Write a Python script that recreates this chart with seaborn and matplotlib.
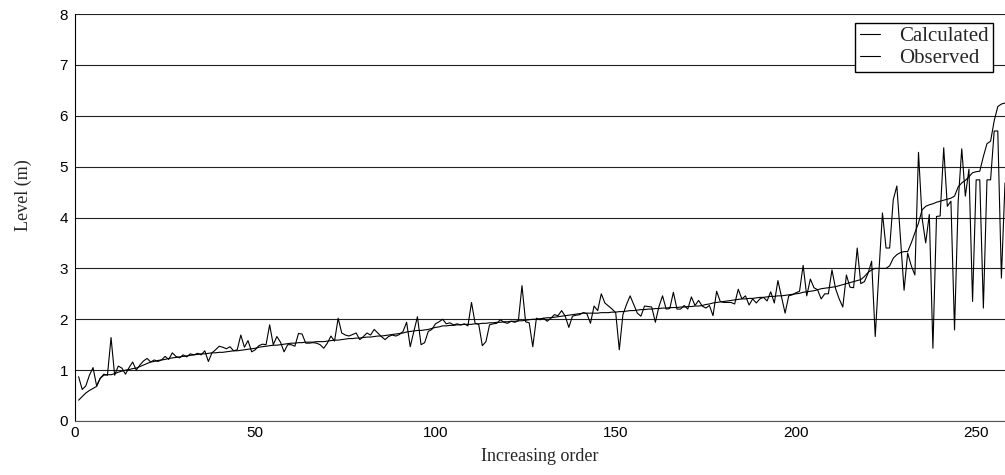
#!/usr/bin/env python3
"""Calculated vs observed level, sorted in increasing order."""

import matplotlib.pyplot as plt
import numpy as np
import pandas as pd
import seaborn as sns

# Calculated level (m), points 1..258
CALCULATED = [
    0.41, 0.48, 0.55, 0.60, 0.64, 0.68, 0.84, 0.90, 0.91, 0.91,
    0.93, 0.96, 0.98, 1.00, 1.01, 1.03, 1.04, 1.07, 1.10, 1.13,
    1.16, 1.17, 1.19, 1.20, 1.21, 1.23, 1.24, 1.25, 1.26, 1.27,
    1.28, 1.29, 1.30, 1.31, 1.32, 1.32, 1.33, 1.34, 1.34, 1.35,
    1.35, 1.36, 1.37, 1.38, 1.38, 1.39, 1.40, 1.41, 1.42, 1.43,
    1.45, 1.46, 1.47, 1.48, 1.49, 1.49, 1.50, 1.51, 1.52, 1.53,
    1.53, 1.54, 1.54, 1.55, 1.55, 1.55, 1.56, 1.56, 1.56, 1.57,
    1.58, 1.59, 1.59, 1.60, 1.61, 1.62, 1.62, 1.63, 1.63, 1.64,
    1.65, 1.65, 1.66, 1.67, 1.67, 1.68, 1.69, 1.70, 1.71, 1.72,
    1.73, 1.75, 1.76, 1.77, 1.78, 1.78, 1.79, 1.80, 1.82, 1.84,
    1.85, 1.87, 1.87, 1.88, 1.88, 1.89, 1.89, 1.90, 1.90, 1.90,
    1.91, 1.91, 1.92, 1.92, 1.93, 1.93, 1.94, 1.94, 1.95, 1.95,
    1.96, 1.96, 1.97, 1.97, 1.98, 1.99, 2.00, 2.00, 2.01, 2.02,
    2.03, 2.03, 2.04, 2.05, 2.06, 2.07, 2.08, 2.09, 2.10, 2.11,
    2.12, 2.12, 2.12, 2.12, 2.12, 2.13, 2.13, 2.13, 2.14, 2.14,
    2.15, 2.15, 2.16, 2.17, 2.17, 2.18, 2.19, 2.19, 2.20, 2.20,
    2.21, 2.21, 2.22, 2.22, 2.23, 2.23, 2.23, 2.24, 2.24, 2.25,
    2.25, 2.26, 2.26, 2.27, 2.29, 2.30, 2.32, 2.33, 2.34, 2.35,
    2.36, 2.37, 2.38, 2.39, 2.40, 2.40, 2.41, 2.41, 2.42, 2.43,
    2.43, 2.44, 2.45, 2.45, 2.46, 2.46, 2.47, 2.48, 2.49, 2.50,
    2.51, 2.53, 2.54, 2.55, 2.56, 2.58, 2.60, 2.61, 2.62, 2.63,
    2.64, 2.66, 2.68, 2.70, 2.72, 2.74, 2.76, 2.78, 2.84, 2.92,
    2.97, 3.00, 3.00, 3.00, 3.00, 3.05, 3.20, 3.27, 3.31, 3.33,
    3.33, 3.50, 3.70, 3.89, 4.15, 4.22, 4.25, 4.27, 4.30, 4.32,
    4.34, 4.36, 4.38, 4.42, 4.60, 4.68, 4.73, 4.80, 4.88, 4.90,
    4.91, 5.20, 5.45, 5.50, 5.90, 6.18, 6.23, 6.25,
]

# Observed level (m), same order
OBSERVED = [
    0.87, 0.62, 0.69, 0.90, 1.05, 0.69, 0.84, 0.92, 0.90, 1.64,
    0.90, 1.08, 1.04, 0.92, 1.05, 1.16, 1.00, 1.10, 1.18, 1.23,
    1.16, 1.20, 1.17, 1.20, 1.27, 1.21, 1.34, 1.27, 1.24, 1.30,
    1.26, 1.32, 1.30, 1.33, 1.30, 1.38, 1.17, 1.34, 1.40, 1.47,
    1.45, 1.42, 1.46, 1.38, 1.40, 1.69, 1.45, 1.58, 1.36, 1.40,
    1.48, 1.51, 1.50, 1.89, 1.50, 1.66, 1.55, 1.36, 1.50, 1.50,
    1.47, 1.72, 1.71, 1.53, 1.53, 1.54, 1.53, 1.50, 1.43, 1.53,
    1.67, 1.57, 2.02, 1.73, 1.69, 1.67, 1.70, 1.73, 1.60, 1.66,
    1.73, 1.69, 1.80, 1.73, 1.66, 1.60, 1.66, 1.69, 1.67, 1.70,
    1.76, 1.94, 1.46, 1.76, 2.05, 1.50, 1.54, 1.76, 1.80, 1.91,
    1.95, 2.00, 1.91, 1.93, 1.89, 1.91, 1.89, 1.91, 1.87, 2.33,
    1.92, 1.90, 1.48, 1.56, 1.89, 1.91, 1.92, 1.99, 1.94, 1.92,
    1.96, 1.94, 1.97, 2.66, 1.95, 1.93, 1.46, 2.02, 1.99, 2.02,
    1.96, 2.02, 2.09, 2.07, 2.17, 2.06, 1.84, 2.06, 2.08, 2.09,
    2.13, 2.11, 1.92, 2.26, 2.17, 2.50, 2.32, 2.26, 2.20, 2.13,
    1.40, 2.09, 2.29, 2.46, 2.29, 2.12, 2.06, 2.26, 2.25, 2.24,
    1.94, 2.25, 2.46, 2.20, 2.21, 2.53, 2.20, 2.20, 2.27, 2.20,
    2.44, 2.27, 2.37, 2.26, 2.22, 2.27, 2.07, 2.55, 2.35, 2.33,
    2.33, 2.33, 2.30, 2.59, 2.40, 2.46, 2.28, 2.40, 2.32, 2.40,
    2.43, 2.36, 2.54, 2.32, 2.76, 2.44, 2.12, 2.46, 2.48, 2.52,
    2.55, 3.06, 2.46, 2.79, 2.62, 2.58, 2.40, 2.50, 2.50, 2.97,
    2.60, 2.40, 2.24, 2.87, 2.63, 2.62, 3.40, 2.70, 2.74, 2.90,
    3.14, 1.66, 2.90, 4.09, 3.40, 3.40, 4.35, 4.62, 3.60, 2.57,
    3.30, 3.05, 2.87, 5.28, 3.99, 3.50, 4.06, 1.43, 4.02, 4.03,
    5.37, 4.22, 4.32, 1.79, 4.30, 5.35, 4.42, 4.95, 2.35, 4.74,
    4.74, 2.22, 4.74, 4.74, 5.70, 5.70, 2.81, 4.68,
]

X_TICKS = [0, 50, 100, 150, 200, 250]
Y_TICKS = [0, 1, 2, 3, 4, 5, 6, 7, 8]

SERIF = ["Liberation Serif", "DejaVu Serif"]
SANS = ["Liberation Sans", "DejaVu Sans"]


def main():
    order = np.arange(1, len(CALCULATED) + 1)
    df = pd.concat([
        pd.DataFrame({"order": order, "level": CALCULATED, "series": "Calculated"}),
        pd.DataFrame({"order": order, "level": OBSERVED, "series": "Observed"}),
    ])

    sns.set_style("white")
    plt.rcParams["font.family"] = SANS

    fig = plt.figure(figsize=(10.05, 4.75), dpi=100)
    ax = fig.add_axes([75 / 1005, 1 - 421 / 475, 930 / 1005, 407 / 475])

    sns.lineplot(
        data=df, x="order", y="level", hue="series",
        palette={"Calculated": "black", "Observed": "black"},
        linewidth=0.8, ax=ax,
    )

    ax.set_xlim(0, 258)
    ax.set_ylim(0, 8)
    ax.set_xticks(X_TICKS)
    ax.set_yticks(Y_TICKS)
    ax.yaxis.grid(True, color="#222222", linewidth=0.8)
    ax.set_axisbelow(True)
    ax.tick_params(direction="in", length=6, labelsize=11, colors="black")
    ax.tick_params(axis="y", length=0, pad=5)
    for side in ("top", "right"):
        ax.spines[side].set_visible(False)
    ax.spines["left"].set_color("black")
    ax.spines["bottom"].set_color("#555555")

    ax.set_xlabel("Increasing order", family=SERIF, fontsize=13, labelpad=6)
    ax.set_ylabel("Level (m)", family=SERIF, fontsize=13)
    ax.yaxis.set_label_coords(-0.046, 0.555)

    leg = ax.legend(
        loc="upper right", bbox_to_anchor=(0.987, 0.979), borderaxespad=0,
        frameon=True, fancybox=False, framealpha=1, edgecolor="black",
        prop={"family": SERIF, "size": 15}, handlelength=1.0,
        handletextpad=0.9, borderpad=0.2, labelspacing=0.1,
    )
    leg.get_frame().set_linewidth(1.0)

    fig.savefig("out.png", dpi=100)
    plt.close(fig)


if __name__ == "__main__":
    main()
